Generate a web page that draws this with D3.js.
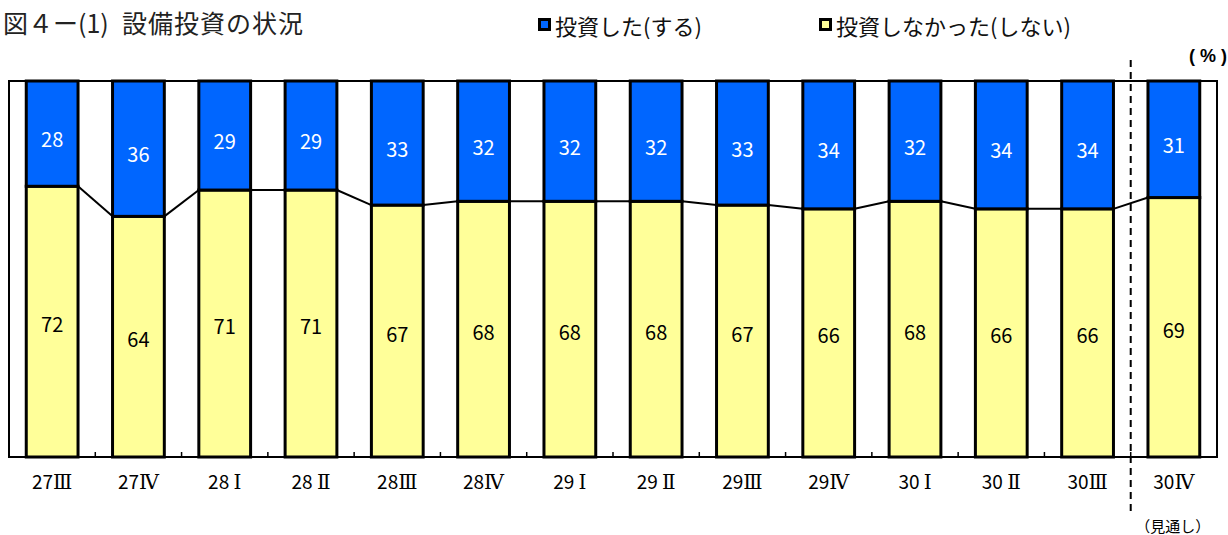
<!DOCTYPE html>
<html><head><meta charset="utf-8">
<script src="https://cdn.jsdelivr.net/npm/d3@7"></script>
<style>
html,body{margin:0;padding:0;background:#fff;}
svg{display:block;}
text{font-family:"Noto Sans CJK JP","Noto Sans",sans-serif;}
</style></head>
<body>
<svg id="chart" width="1228" height="535"></svg>
<script>
const categories = ["27Ⅲ","27Ⅳ","28 Ⅰ","28 Ⅱ","28Ⅲ","28Ⅳ","29 Ⅰ","29 Ⅱ","29Ⅲ","29Ⅳ","30 Ⅰ","30 Ⅱ","30Ⅲ","30Ⅳ"];
const invested    = [28,36,29,29,33,32,32,32,33,34,32,34,34,31];
const notInvested = [72,64,71,71,67,68,68,68,67,66,68,66,66,69];
const seriesNames = ["投資した(する)","投資しなかった(しない)"];
const colors = ["#0066FF","#FFFF99"];
const forecastIndex = 13;

const svg = d3.select("#chart");
const plot = {left:9, right:1217, top:81, bottom:457};

const x = d3.scaleBand().domain(categories).range([plot.left, plot.right])
  .paddingInner(0.4).paddingOuter(0.2);
const y = d3.scaleLinear().domain([0,100]).range([plot.bottom, plot.top]);
const step = x.step(), bw = x.bandwidth();

const rows = categories.map((c,i)=>({cat:c, notInvested:notInvested[i], invested:invested[i]}));
const stack = d3.stack().keys(["notInvested","invested"])(rows);

// frame
svg.append("rect").attr("x",plot.left).attr("y",plot.top)
  .attr("width",plot.right-plot.left).attr("height",plot.bottom-plot.top)
  .attr("fill","#fff").attr("stroke","#000").attr("stroke-width",2);

// boundary ticks (inward)
const bounds = categories.slice(0,-1).map(c => x(c) + bw + step*0.2);
svg.append("g").selectAll("line").data(bounds).join("line")
  .attr("x1",d=>d).attr("x2",d=>d).attr("y1",plot.bottom).attr("y2",plot.bottom-5)
  .attr("stroke","#000").attr("stroke-width",1.5);

// connector lines
const conn = [];
for (let i=0;i<categories.length-1;i++){
  conn.push({x1:x(categories[i])+bw, y1:y(notInvested[i]), x2:x(categories[i+1]), y2:y(notInvested[i+1])});
}
svg.append("g").selectAll("line").data(conn).join("line")
  .attr("x1",d=>d.x1).attr("y1",d=>d.y1).attr("x2",d=>d.x2).attr("y2",d=>d.y2)
  .attr("stroke","#000").attr("stroke-width",2);

// bars
const fills = {notInvested:colors[1], invested:colors[0]};
stack.forEach(s=>{
  svg.append("g").selectAll("rect").data(s).join("rect")
    .attr("x",d=>x(d.data.cat)).attr("width",bw)
    .attr("y",d=>y(d[1])).attr("height",d=>y(d[0])-y(d[1]))
    .attr("fill",fills[s.key]).attr("stroke","#000").attr("stroke-width",3);
});

// data labels
stack.forEach(s=>{
  svg.append("g").selectAll("text").data(s).join("text")
    .attr("x",d=>x(d.data.cat)+bw/2)
    .attr("y",d=>(y(d[0])+y(d[1]))/2 + (s.key==="invested"?5:2))
    .attr("text-anchor","middle").attr("dominant-baseline","central")
    .attr("font-size",20)
    .attr("fill", s.key==="invested" ? "#fff" : "#000")
    .text(d=>d.data[s.key]);
});

// axis labels
const axis = d3.axisBottom(x).tickSize(0).tickPadding(19);
const ag = svg.append("g").attr("transform",`translate(0,${plot.bottom})`).call(axis);
ag.select(".domain").remove();
ag.selectAll(".tick text").each(function(d){
  const el = d3.select(this);
  const m = d.match(/^(\d+)(\s?)(.)$/);
  el.text(null).attr("font-size",19).attr("fill","#000")
    .style("font-family",'"Noto Sans CJK JP",sans-serif');
  el.append("tspan").text(m[1] + (m[2] ? " " : ""));
  el.append("tspan").style("font-family",'"DejaVu Serif",serif').attr("font-size",20).text(m[3]);
});

// forecast dashed line
const dashX = x(categories[forecastIndex]) - step*0.2;
svg.append("line").attr("x1",dashX).attr("x2",dashX).attr("y1",60).attr("y2",511)
  .attr("stroke","#000").attr("stroke-width",2).attr("stroke-dasharray","7,5");

svg.append("text").attr("x",x(categories[forecastIndex])+bw/2-1).attr("y",532)
  .attr("text-anchor","middle").attr("font-size",15).text("（見通し）");

// unit
svg.append("text").attr("x",1227).attr("y",62).attr("text-anchor","end")
  .attr("font-size",18).attr("font-weight","bold")
  .style("font-family",'"Liberation Sans",sans-serif').text("( % )");

// title
const t = svg.append("text").attr("y",33).attr("font-size",25).attr("fill","#222");
t.append("tspan").attr("x",3).text("図４ー(1)");
t.append("tspan").attr("x",122).attr("letter-spacing",1).text("設備投資の状況");

// legend
const legendX = [538, 819];
seriesNames.forEach((n,i)=>{
  const g = svg.append("g").attr("transform",`translate(${legendX[i]},0)`);
  g.append("rect").attr("x",1.5).attr("y",19.5).attr("width",10).attr("height",10)
    .attr("fill",colors[i]).attr("stroke","#000").attr("stroke-width",3);
  g.append("text").attr("x",17).attr("y",35).attr("font-size",22)
    .attr("fill","#111").text(n);
});
</script>
</body></html>
